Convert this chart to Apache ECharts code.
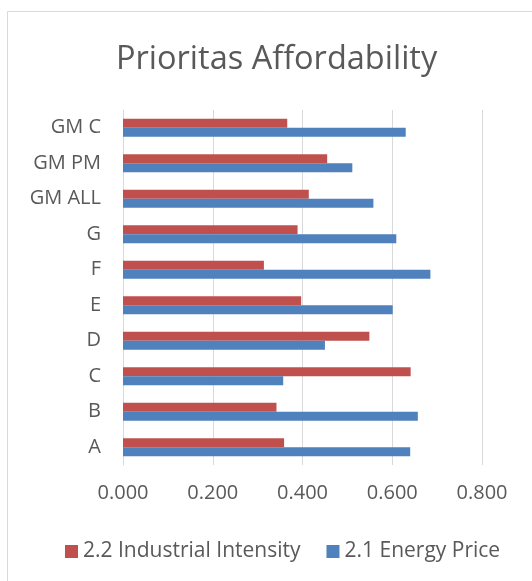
<!DOCTYPE html>
<html><head><meta charset="utf-8">
<script src="https://cdn.jsdelivr.net/npm/echarts@6/dist/echarts.min.js"></script>
<style>html,body{margin:0;padding:0;background:#fff}#c{width:532px;height:581px}</style>
</head><body><div id="c"></div>
<script>
const categories = ['A','B','C','D','E','F','G','GM ALL','GM PM','GM C'];
const industrialIntensity = [0.359,0.342,0.641,0.549,0.397,0.314,0.389,0.414,0.455,0.366];
const energyPrice = [0.640,0.657,0.357,0.450,0.601,0.685,0.609,0.558,0.511,0.630];
const seriesNames = ['2.2 Industrial Intensity','2.1 Energy Price'];
const xTicks = {min:0,max:0.8,interval:0.2};
const FONT = '"Open Sans", "Noto Sans", sans-serif';
const chart = echarts.init(document.getElementById('c'));
chart.setOption({
  animation:false,
  backgroundColor:'#fff',
  title:{text:'Prioritas Affordability',left:111,top:38,
    textStyle:{fontFamily:FONT,fontSize:32.5,fontWeight:'normal',color:'#595959'}},
  graphic:[{type:'rect',shape:{x:7.5,y:11.5,width:600,height:700},
    style:{fill:'none',stroke:'#D9D9D9',lineWidth:1},silent:true}],
  legend:{left:60,top:536,itemWidth:13,itemHeight:13,itemGap:26,
    icon:'rect',
    textStyle:{fontFamily:FONT,fontSize:21,color:'#595959'},
    data:seriesNames},
  grid:{left:123,right:50,top:110,bottom:116,containLabel:false},
  xAxis:{type:'value',min:xTicks.min,max:xTicks.max,interval:xTicks.interval,
    axisLine:{show:false},axisTick:{show:false},
    splitLine:{lineStyle:{color:'#D9D9D9',width:1}},
    axisLabel:{formatter:v=>v.toFixed(3),fontFamily:FONT,fontSize:20,color:'#595959',margin:18}},
  yAxis:{type:'category',data:categories,
    axisLine:{lineStyle:{color:'#D9D9D9'}},axisTick:{show:false},
    axisLabel:{fontFamily:FONT,fontSize:20,color:'#595959',margin:22}},
  series:[
    {name:seriesNames[0],type:'bar',data:industrialIntensity,itemStyle:{color:'#C0504D'},
      barGap:'0%',barCategoryGap:'49%'},
    {name:seriesNames[1],type:'bar',data:energyPrice,itemStyle:{color:'#4F81BD'},
      barGap:'0%',barCategoryGap:'49%'}
  ]
});
</script></body></html>
